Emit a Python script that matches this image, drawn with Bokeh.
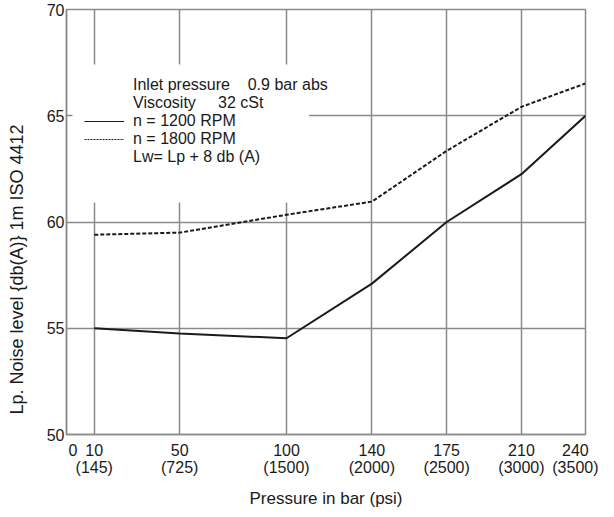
import math
from bokeh.plotting import figure
from bokeh.models import (Range1d, FixedTicker, Legend, LegendItem,
                          BoxAnnotation)
from bokeh.embed import file_html
from bokeh.resources import INLINE

# ---- data ----
pressure_bar = [10, 50, 100, 140, 175, 210, 240]
pressure_psi = [145, 725, 1500, 2000, 2500, 3000, 3500]
noise_1200 = [55.0, 54.75, 54.53, 57.1, 60.0, 62.25, 65.0]
noise_1800 = [59.4, 59.5, 60.34, 60.96, 63.35, 65.42, 66.52]
y_ticks = [50, 55, 60, 65, 70]
y_grid = [55, 60, 65]
legend_texts = ["Inlet pressure \u00a0\u00a0\u00a00.9 bar abs",
                "Viscosity \u00a0\u00a0\u00a0\u00a032 cSt",
                "n = 1200 RPM",
                "n = 1800 RPM",
                "Lw= Lp + 8 db (A)"]
x_title = "Pressure in bar (psi)"
y_title = "Lp. Noise level {db(A)} 1m ISO 4412"
# the printed y title sits below the middle of the axis: pad its upper end
y_title_padded = y_title + "\u00a0" * 19

FONT = "Liberation Sans"
GRID = "#8a8a8a"
INK = "#1a1a1a"

p = figure(frame_width=519, frame_height=425, x_range=Range1d(-3, 240), y_range=Range1d(50, 70),
           output_backend="svg", toolbar_location=None,
           min_border_left=66, min_border_right=13, min_border_top=9, min_border_bottom=10)
p.background_fill_color = "white"
p.border_fill_color = "white"
p.outline_line_color = GRID
p.outline_line_width = 1.5

# axes
p.xaxis.ticker = FixedTicker(ticks=[0] + pressure_bar)
overrides = {0: "0"}
for b, s in zip(pressure_bar, pressure_psi):
    overrides[b] = f"{b}\n({s})"
p.xaxis.major_label_overrides = overrides
p.yaxis.ticker = FixedTicker(ticks=y_ticks)
for ax in (p.xaxis, p.yaxis):
    ax.axis_line_color = GRID
    ax.axis_line_width = 1.5
    ax.major_tick_line_color = None
    ax.minor_tick_line_color = None
    ax.major_tick_out = 0
    ax.major_tick_in = 0
    ax.major_label_text_font = FONT
    ax.major_label_text_font_size = "16px"
    ax.major_label_text_color = INK
    ax.axis_label_text_font = FONT
    ax.axis_label_text_font_style = "normal"
    ax.axis_label_text_color = INK
p.yaxis.major_label_standoff = 2
p.xaxis.major_label_standoff = 7
p.xaxis.major_label_text_line_height = 1.0
p.xaxis.axis_label = x_title
p.xaxis.axis_label_text_font_size = "17px"
p.xaxis.axis_label_standoff = 10
p.yaxis.axis_label = y_title_padded
p.yaxis.axis_label_text_font_size = "18px"
p.yaxis.axis_label_standoff = 17

# grid
p.xgrid.ticker = FixedTicker(ticks=pressure_bar)
p.ygrid.ticker = FixedTicker(ticks=y_grid)
for g in (p.xgrid, p.ygrid):
    g.grid_line_color = GRID
    g.grid_line_width = 1.5
    g.grid_line_alpha = 1.0

# data lines
r1200 = p.line(pressure_bar, noise_1200, line_color=INK, line_width=2)
r1800 = p.line(pressure_bar, noise_1800, line_color=INK, line_width=2, line_dash="4 2")

# legend sample renderers (hidden copies, only used for the legend glyphs)
leg_solid = p.line(pressure_bar, noise_1200, line_color=INK, line_width=1, visible=False)
leg_dash = p.line(pressure_bar, noise_1800, line_color=INK, line_width=1, line_dash="2 1", visible=False)
leg_blank = p.line(pressure_bar, noise_1200, line_alpha=0, visible=False)

# white area behind the legend text (grid is interrupted there)
mask = BoxAnnotation(left=-0.2, right=110.6, bottom=60.92, top=67.41,
                     fill_color="white", fill_alpha=1.0, line_color=None)
p.add_layout(mask)

items = [LegendItem(label=legend_texts[0], renderers=[leg_blank]),
         LegendItem(label=legend_texts[1], renderers=[leg_blank]),
         LegendItem(label=legend_texts[2], renderers=[leg_solid]),
         LegendItem(label=legend_texts[3], renderers=[leg_dash]),
         LegendItem(label=legend_texts[4], renderers=[leg_blank])]
legend = Legend(items=items, location=(18, 268), glyph_width=40, glyph_height=18,
                label_height=18, label_standoff=9, spacing=0, padding=0, margin=0,
                border_line_color=None, background_fill_alpha=0,
                inactive_fill_alpha=0, click_policy="none",
                label_text_font=FONT, label_text_font_size="16px",
                label_text_line_height=1.0, label_text_color=INK)
p.add_layout(legend)

open("out.html", "w").write(file_html(p, INLINE))
